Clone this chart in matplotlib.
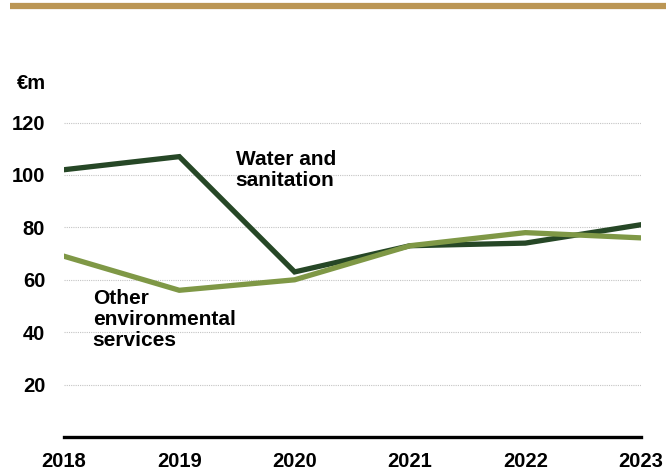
import matplotlib.pyplot as plt
from matplotlib.lines import Line2D

plt.rcParams['font.family'] = ['Liberation Sans', 'DejaVu Sans']
plt.rcParams['font.weight'] = 'bold'

years = [2018, 2019, 2020, 2021, 2022, 2023]
water = [102, 107, 63, 73, 74, 81]
other = [69, 56, 60, 73, 78, 76]
yticks = [20, 40, 60, 80, 100, 120]

dark_green = '#264726'
light_green = '#7f9846'
gold = '#bb9654'

fig = plt.figure(figsize=(6.66, 4.74), dpi=100)
ax = fig.add_axes([0.096, 0.078, 0.866, 0.774])

# gold bar across the top
fig.add_artist(Line2D([10/666, 1.0], [1 - 6/474, 1 - 6/474], color=gold, lw=4.5,
                      transform=fig.transFigure, solid_capstyle='butt'))

ax.plot(years, water, color=dark_green, lw=3.8, solid_joinstyle='miter', zorder=3)
ax.plot(years, other, color=light_green, lw=3.8, solid_joinstyle='miter', zorder=4)

ax.set_xlim(2018, 2023)
ax.set_ylim(0, 140)
ax.set_yticks(yticks)
ax.set_xticks(years)
ax.tick_params(axis='both', length=0, labelsize=14.5)
ax.tick_params(axis='y', pad=13.5)
ax.tick_params(axis='x', pad=11)
for lbl in ax.get_xticklabels() + ax.get_yticklabels():
    lbl.set_fontweight('bold')

ax.grid(axis='y', color='#c4c4c4', lw=0.8, ls=(0, (1, 1)))
ax.set_axisbelow(True)
for s in ['top', 'right', 'left']:
    ax.spines[s].set_visible(False)
ax.spines['bottom'].set_linewidth(2.4)
ax.spines['bottom'].set_color('black')

ax.text(-0.082, 135, '€m', transform=ax.get_yaxis_transform(), fontsize=14.5,
        fontweight='bold', ha='left', va='center')

ax.text(2019.49, 109.5, 'Water and\nsanitation', fontsize=15, fontweight='bold',
        ha='left', va='top', linespacing=1.12)
ax.text(2018.25, 56.5, 'Other\nenvironmental\nservices', fontsize=15, fontweight='bold',
        ha='left', va='top', linespacing=1.12)

fig.savefig('out.png', dpi=100)
